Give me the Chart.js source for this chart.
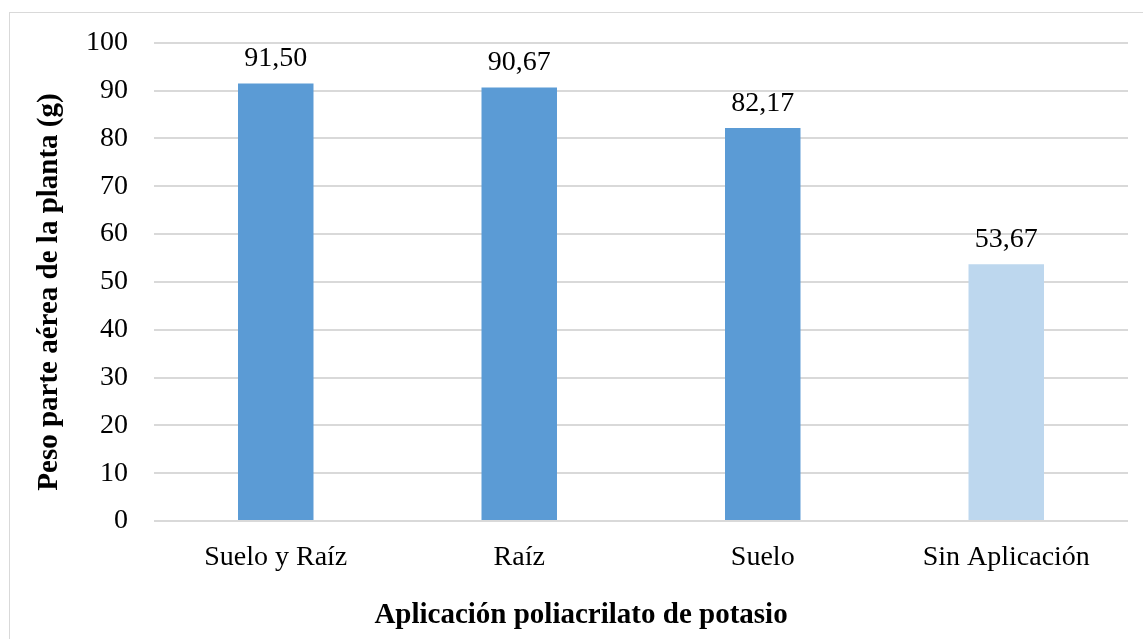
<!DOCTYPE html>
<html>
<head>
<meta charset="utf-8">
<script src="https://cdn.jsdelivr.net/npm/chart.js@4"></script>
<style>
  html, body { margin: 0; padding: 0; background: #fff; }
  #wrap { position: relative; width: 1143px; height: 639px; overflow: hidden; }
  #frame { position: absolute; left: 9px; top: 12px; width: 1150px; height: 650px; border: 1px solid #d9d9d9; box-sizing: border-box; }
  canvas { position: absolute; left: 0; top: 0; }
</style>
</head>
<body>
<div id="wrap">
  <div id="frame"></div>
  <canvas id="chart" width="1143" height="639"></canvas>
</div>
<script>
const categories = ["Suelo y Raíz", "Raíz", "Suelo", "Sin Aplicación"];
const pesoValues = [91.50, 90.67, 82.17, 53.67];
const barColors = ["#5b9bd5", "#5b9bd5", "#5b9bd5", "#bdd7ee"];
const yTicks = [0, 10, 20, 30, 40, 50, 60, 70, 80, 90, 100];
const xTitle = "Aplicación poliacrilato de potasio";
const yTitle = "Peso parte aérea de la planta (g)";

const FONT = "'Liberation Serif', 'Times New Roman', serif";

// etiquetas de valor (coma decimal) y títulos de ejes centrados como en Excel
const extraText = {
  id: "extraText",
  afterDatasetsDraw(chart) {
    const ctx = chart.ctx;
    const meta = chart.getDatasetMeta(0);
    ctx.save();
    ctx.fillStyle = "#000";
    ctx.font = "28px " + FONT;
    ctx.textAlign = "center";
    ctx.textBaseline = "alphabetic";
    meta.data.forEach((bar, i) => {
      const txt = pesoValues[i].toFixed(2).replace(".", ",");
      ctx.fillText(txt, bar.x, bar.y - 17);
    });

    ctx.font = "bold 29px " + FONT;
    ctx.fillText(xTitle, 581, 623);

    ctx.translate(50, 292);
    ctx.rotate(-Math.PI / 2);
    ctx.textBaseline = "middle";
    ctx.fillText(yTitle, 0, 0);
    ctx.restore();
  },
};

const ctx = document.getElementById("chart").getContext("2d");
new Chart(ctx, {
  type: "bar",
  data: {
    labels: categories,
    datasets: [{
      data: pesoValues,
      backgroundColor: barColors,
      borderWidth: 0,
      categoryPercentage: 1,
      barPercentage: 0.31,
    }],
  },
  options: {
    responsive: false,
    animation: false,
    devicePixelRatio: 1,
    layout: { padding: { top: 41, right: 15, bottom: 0, left: 0 } },
    plugins: { legend: { display: false }, tooltip: { enabled: false } },
    scales: {
      x: {
        afterFit: axis => { axis.height = 118; },
        grid: { display: false, drawTicks: false },
        border: { display: false },
        ticks: { color: "#000", font: { family: FONT, size: 28 }, padding: 20 },
      },
      y: {
        min: 0,
        max: 100,
        afterFit: axis => { axis.width = 154; },
        afterBuildTicks: axis => { axis.ticks = yTicks.map(v => ({ value: v })); },
        grid: { color: "#d9d9d9", lineWidth: 2, drawTicks: false },
        border: { display: false },
        ticks: { color: "#000", font: { family: FONT, size: 28 }, padding: 26 },
      },
    },
  },
  plugins: [extraText],
});
</script>
</body>
</html>
